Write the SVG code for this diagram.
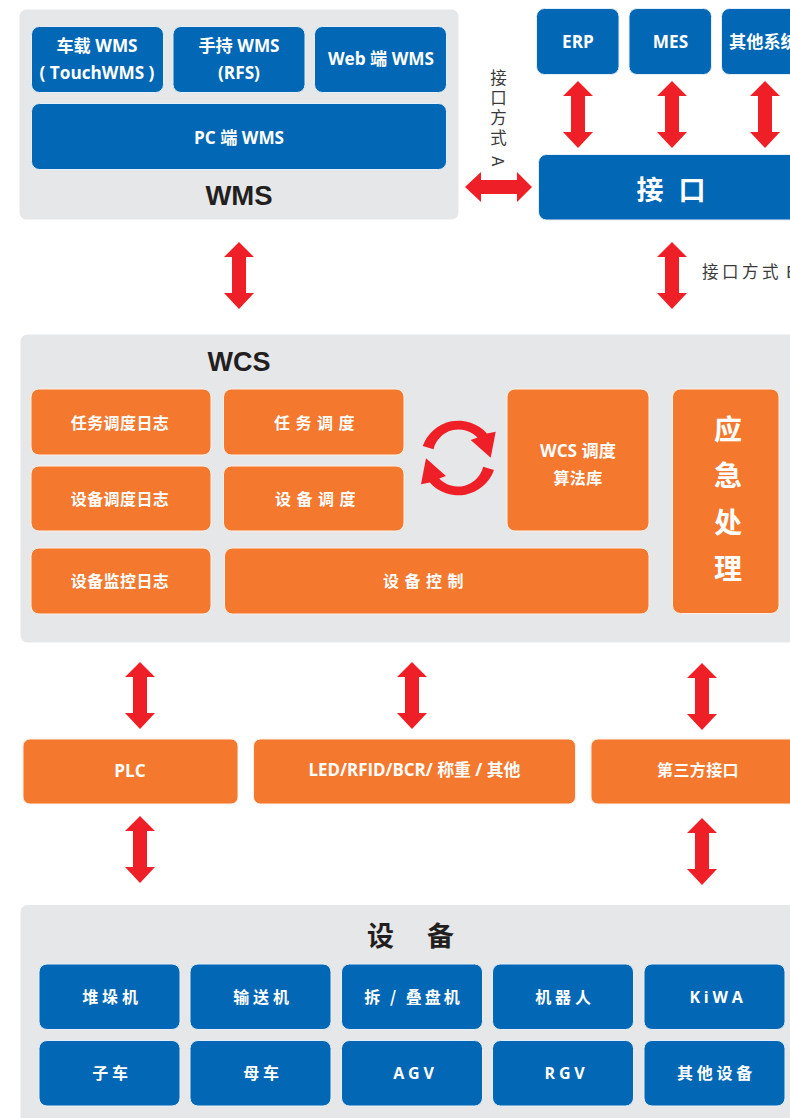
<svg xmlns="http://www.w3.org/2000/svg" xmlns:xlink="http://www.w3.org/1999/xlink" width="790" height="1118" viewBox="0 0 790 1118">
<style>
text{font-family:"Open Sans","Noto Sans CJK SC",sans-serif;font-weight:700;fill:#fff;text-anchor:middle}
.panel{fill:#e6e7e9}
.b{fill:#0267b5;stroke:#e4eff8;stroke-width:1}
.o{fill:#f4782e;stroke:#fdf0e6;stroke-width:1}
.arrow{fill:#ef1f28}
.t{font-family:"Liberation Sans","Noto Sans CJK SC",sans-serif;font-weight:700;fill:#231f20}
.l{font-family:"Noto Sans CJK SC",sans-serif;font-weight:400;fill:#3a3a3a;font-size:16.5px}
.s17{font-size:17.2px}.s16{font-size:16px;letter-spacing:.4px}.sp{font-size:16px;letter-spacing:5.500px}.sd{font-size:16px;letter-spacing:3.800px}
.n{font-family:"Noto Sans CJK SC","Open Sans",sans-serif;font-weight:700}
</style>
<defs>
<path id="v" d="M0 0L15 15H7V51H15L0 67L-15 51H-7V15H-15Z"/>
</defs>
<rect width="790" height="1118" fill="#fff"/>
<g id="wms-panel"><rect class="panel" x="19.5" y="9.5" width="439" height="210" rx="7"/><text class="t" x="239" y="205" font-size="27.500">WMS</text></g>
<g id="n-chezai"><rect class="b" x="31.500" y="26.500" width="132" height="66" rx="8"/><text class="s17" x="97" y="51.500">车载 WMS</text><text class="s17" x="97" y="79">( TouchWMS )</text></g>
<g id="n-shouchi"><rect class="b" x="173" y="26.500" width="132" height="66" rx="8"/><text class="s17" x="239" y="51.500">手持 WMS</text><text class="s17" x="239" y="79">(RFS)</text></g>
<g id="n-web"><rect class="b" x="314.500" y="26.500" width="132" height="66" rx="8"/><text class="s17" x="381" y="65">Web 端 WMS</text></g>
<g id="n-pc"><rect class="b" x="31.500" y="103.500" width="415" height="66" rx="8"/><text class="s17" x="239" y="143.500">PC 端 WMS</text></g>
<g id="n-erp"><rect class="b" x="536.500" y="8.500" width="82.500" height="66" rx="8"/><text class="s17" x="578" y="48">ERP</text></g>
<g id="n-mes"><rect class="b" x="629" y="8.500" width="82.500" height="66" rx="8"/><text class="s17" x="670.500" y="48">MES</text></g>
<g id="n-other"><rect class="b" x="721.500" y="8.500" width="91" height="66" rx="8"/><text class="s17 n" x="729" y="48" style="text-anchor:start">其他系统</text></g>
<g id="n-iface"><rect class="b" x="538.500" y="154.500" width="271" height="65.500" rx="8"/><text class="n" x="636.500" y="200" font-size="27" letter-spacing="15" style="text-anchor:start">接口</text></g>
<text id="label-a" class="l" x="498.500" y="69" writing-mode="vertical-rl" letter-spacing="3.500" style="text-anchor:start">接口方式 A</text>
<text id="label-b" class="l" x="702" y="278" style="text-anchor:start"><tspan letter-spacing="3.500">接口方式</tspan><tspan x="786">B</tspan></text>
<g id="wcs-panel"><rect class="panel" x="20.500" y="334.500" width="790" height="308" rx="7"/><text class="t" x="239" y="371" font-size="27">WCS</text></g>
<g id="n-rw-log"><rect class="o" x="31" y="389" width="180" height="66" rx="8"/><text class="s16 n" x="120" y="429">任务调度日志</text></g>
<g id="n-sb-log"><rect class="o" x="31" y="466" width="180" height="65" rx="8"/><text class="s16 n" x="120" y="505">设备调度日志</text></g>
<g id="n-jk-log"><rect class="o" x="31" y="548" width="180" height="66" rx="8"/><text class="s16 n" x="120" y="587">设备监控日志</text></g>
<g id="n-rw"><rect class="o" x="223.500" y="389" width="180.500" height="66" rx="8"/><text class="sp n" x="317" y="429">任务调度</text></g>
<g id="n-sb"><rect class="o" x="223.500" y="466" width="180.500" height="65" rx="8"/><text class="sp n" x="318" y="505">设备调度</text></g>
<g id="n-ctrl"><rect class="o" x="224.500" y="548" width="424.500" height="66" rx="8"/><text class="sp n" x="426" y="587">设备控制</text></g>
<g id="n-algo"><rect class="o" x="507" y="389" width="142" height="142" rx="8"/><text class="s17" x="578" y="456.500">WCS 调度</text><text class="s16 n" x="578" y="484">算法库</text></g>
<g id="n-emerg"><rect class="o" x="672.500" y="389" width="106.500" height="224.500" rx="8"/><g class="n" font-size="28"><text x="728" y="440">应</text><text x="728" y="486">急</text><text x="728" y="533">处</text><text x="728" y="579">理</text></g></g>
<g id="n-plc"><rect class="o" x="23" y="739" width="215" height="65" rx="7"/><text class="s17" x="130" y="776.500">PLC</text></g>
<g id="n-led"><rect class="o" x="253.500" y="739" width="322" height="65" rx="7"/><text x="414.500" y="775.500" font-size="16.900">LED/RFID/BCR/ 称重 / 其他</text></g>
<g id="n-third"><rect class="o" x="591" y="739" width="221" height="65" rx="7"/><text class="s16 n" x="698" y="776">第三方接口</text></g>
<g id="dev-panel"><rect class="panel" x="20.500" y="905" width="790" height="240" rx="7"/><text class="n" x="367" y="946" font-size="27" letter-spacing="33" style="fill:#231f20;text-anchor:start">设备</text></g>
<g id="d1"><rect class="b" x="39" y="964" width="141" height="65.500" rx="8"/><text class="sd n" x="112" y="1003">堆垛机</text></g>
<g id="d2"><rect class="b" x="190" y="964" width="141" height="65.500" rx="8"/><text class="sd n" x="263" y="1003">输送机</text></g>
<g id="d3"><rect class="b" x="341.500" y="964" width="141" height="65.500" rx="8"/><text class="sp n" x="413.500" y="1003" style="letter-spacing:3px">拆 / 叠盘机</text></g>
<g id="d4"><rect class="b" x="492.500" y="964" width="141" height="65.500" rx="8"/><text class="sd n" x="565" y="1003">机器人</text></g>
<g id="d5"><rect class="b" x="644" y="964" width="141" height="65.500" rx="8"/><text class="sd" x="718" y="1003">KiWA</text></g>
<g id="d6"><rect class="b" x="39" y="1040.500" width="141" height="65.500" rx="8"/><text class="sd n" x="112" y="1079">子车</text></g>
<g id="d7"><rect class="b" x="190" y="1040.500" width="141" height="65.500" rx="8"/><text class="sd n" x="263" y="1079">母车</text></g>
<g id="d8"><rect class="b" x="341.500" y="1040.500" width="141" height="65.500" rx="8"/><text class="sd" x="415.500" y="1079">AGV</text></g>
<g id="d9"><rect class="b" x="492.500" y="1040.500" width="141" height="65.500" rx="8"/><text class="sd" x="566.500" y="1079">RGV</text></g>
<g id="d10"><rect class="b" x="644" y="1040.500" width="141" height="65.500" rx="8"/><text class="sd n" x="716.500" y="1079">其他设备</text></g>
<g id="connectors" class="arrow">
<use href="#v" xlink:href="#v" x="239" y="242"/>
<use href="#v" xlink:href="#v" x="578" y="81"/>
<use href="#v" xlink:href="#v" x="672" y="81"/>
<use href="#v" xlink:href="#v" x="765" y="81"/>
<use href="#v" xlink:href="#v" x="672" y="242"/>
<use href="#v" xlink:href="#v" transform="translate(532 187) rotate(90)"/>
<use href="#v" xlink:href="#v" x="140" y="662"/>
<use href="#v" xlink:href="#v" x="412" y="662"/>
<use href="#v" xlink:href="#v" x="702" y="663"/>
<use href="#v" xlink:href="#v" x="140" y="816"/>
<use href="#v" xlink:href="#v" x="702" y="818"/>
<g id="cycle">
<path id="c1" d="M422.700 446A38 38 0 0 1 487 433.500L495.700 431.700L490.700 457.700L470.700 440L477.500 437.500A26 26 0 0 0 433.500 449.200Z"/>
<use href="#c1" xlink:href="#c1" transform="rotate(180 458.350 458)"/>
</g>
</g>
</svg>
